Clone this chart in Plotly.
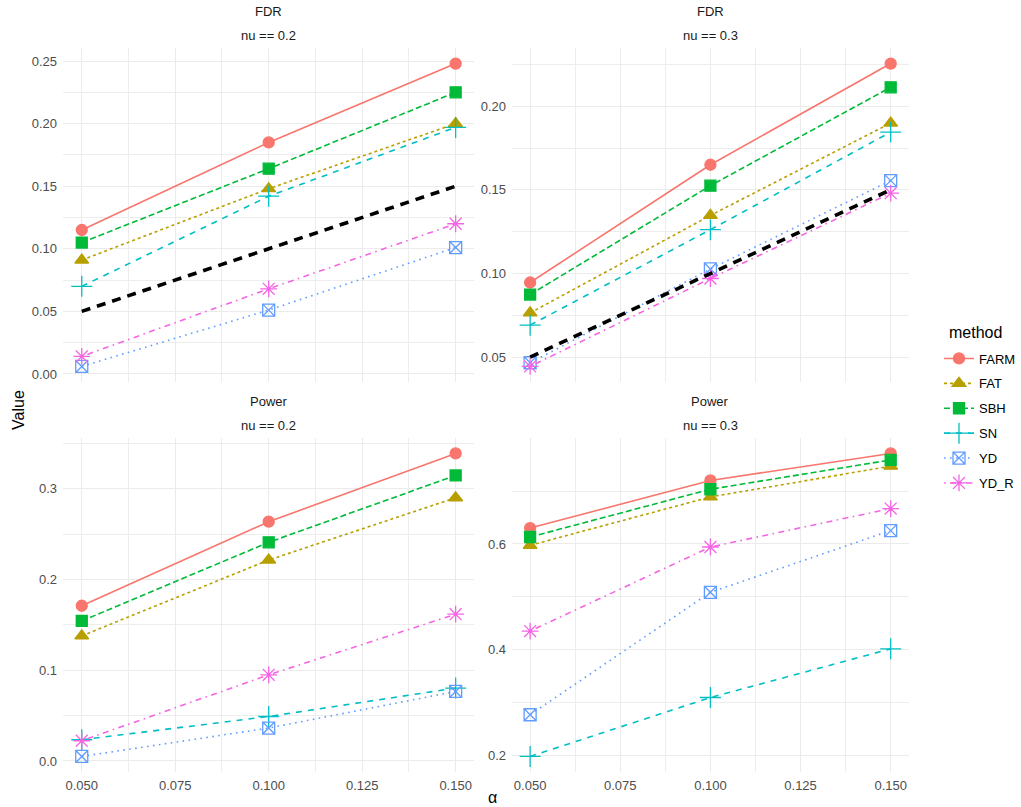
import plotly.graph_objects as go

# ---------------- data ----------------
alpha = [0.05, 0.10, 0.15]
methods = ["FARM", "FAT", "SBH", "SN", "YD", "YD_R"]

# rows follow the order of `methods`
fdr_nu02 = [
    [0.115, 0.185, 0.248],
    [0.091, 0.148, 0.200],
    [0.105, 0.164, 0.225],
    [0.070, 0.142, 0.197],
    [0.006, 0.051, 0.101],
    [0.014, 0.068, 0.120],
]
fdr_nu03 = [
    [0.0946, 0.165, 0.2255],
    [0.0764, 0.1347, 0.1899],
    [0.0874, 0.1525, 0.2113],
    [0.0691, 0.1262, 0.1845],
    [0.0466, 0.1027, 0.1555],
    [0.0444, 0.0970, 0.148],
]
power_nu02 = [
    [0.171, 0.2636, 0.3388],
    [0.1378, 0.2214, 0.290],
    [0.1543, 0.2409, 0.3146],
    [0.0234, 0.049, 0.0803],
    [0.005, 0.0363, 0.0766],
    [0.0223, 0.0949, 0.1617],
]
power_nu03 = [
    [0.630, 0.720, 0.771],
    [0.5975, 0.6888, 0.747],
    [0.6132, 0.7034, 0.7587],
    [0.1987, 0.310, 0.4019],
    [0.2775, 0.5087, 0.6253],
    [0.4355, 0.5943, 0.6669],
]
fdr_target = [0.05, 0.10, 0.15]

# ---------------- styles ----------------
colors = ["#F8766D", "#B79F00", "#00BA38", "#00BFC4", "#619CFF", "#F564E3"]
dashes = ["solid", "3px,3px", "6px,3px", "6px,6px", "1.6px,4.4px", "1.6px,4.4px,6px,4.4px"]
symbols = ["circle", "triangle-up", "square", "cross-thin-open", "square-x-open", "asterisk-open"]
msizes = [11, 12, 11, 15, 12, 14]

W, H = 1021, 807
FONT = "Liberation Sans, Arial, sans-serif"

def px_x(a, b):
    return [a / W, b / W]

def px_y(top, bottom):
    return [1 - bottom / H, 1 - top / H]

panels = [
    # (data, strip1, strip2, xdomain, ydomain, fmt, dtick, minor, show_x_labels, with_ref)
    (fdr_nu02, "FDR", "nu == 0.2", px_x(63.25, 475.75), px_y(48.4, 381.6), ".2f", 0.05, 0.025, False, True),
    (fdr_nu03, "FDR", "nu == 0.3", px_x(513.6, 911.4), px_y(48.4, 381.6), ".2f", 0.05, 0.025, False, True),
    (power_nu02, "Power", "nu == 0.2", px_x(63.25, 475.75), px_y(438.3, 771.6), ".1f", 0.1, 0.05, True, False),
    (power_nu03, "Power", "nu == 0.3", px_x(513.6, 911.4), px_y(438.3, 771.6), ".1f", 0.2, 0.1, True, False),
]

fig = go.Figure()
layout = dict(
    width=W, height=H, autosize=False,
    margin=dict(l=0, r=0, t=0, b=0),
    paper_bgcolor="white", plot_bgcolor="white",
    font=dict(family=FONT, color="#4D4D4D", size=13),
    showlegend=True,
    annotations=[],
)

grid_major = "#EBEBEB"
grid_minor = "#EDEDED"

for i, (data, s1, s2, xd, yd, fmt, dt, mdt, showx, ref) in enumerate(panels):
    k = "" if i == 0 else str(i + 1)
    xa, ya = "x" + k, "y" + k
    vals = [v for row in data for v in row] + (fdr_target if ref else [])
    lo, hi = min(vals), max(vals)
    pad = (hi - lo) * 0.05
    xpad = (max(alpha) - min(alpha)) * 0.05
    for j, m in enumerate(methods):
        fig.add_trace(go.Scatter(
            x=alpha, y=data[j], mode="lines+markers", name=m,
            legendgroup=m, showlegend=(i == 0),
            line=dict(color=colors[j], width=1.6, dash=dashes[j]),
            marker=dict(symbol=symbols[j], size=msizes[j], color=colors[j],
                        line=dict(color=colors[j], width=1.3)),
            xaxis=xa, yaxis=ya,
        ))
    if ref:
        fig.add_trace(go.Scatter(
            x=alpha, y=fdr_target, mode="lines", showlegend=False,
            line=dict(color="black", width=3.6, dash="9px,7px"),
            xaxis=xa, yaxis=ya, hoverinfo="skip",
        ))
    layout["xaxis" + k] = dict(
        domain=xd, anchor=ya, range=[min(alpha) - xpad, max(alpha) + xpad],
        tick0=0.05, dtick=0.025, tickformat=".3f", showticklabels=showx,
        showgrid=True, gridcolor=grid_major, gridwidth=1.1, zeroline=False,
        showline=False, ticks="", ticklabelstandoff=4,
        tickfont=dict(size=13, color="#4D4D4D", family=FONT),
        minor=dict(dtick=0.0125, tick0=0.05, showgrid=True, gridcolor=grid_minor, gridwidth=0.6),
    )
    layout["yaxis" + k] = dict(
        domain=yd, anchor=xa, range=[lo - pad, hi + pad],
        tick0=0, dtick=dt, tickformat=fmt,
        showgrid=True, gridcolor=grid_major, gridwidth=1.1, zeroline=False,
        showline=False, ticks="", ticklabelstandoff=5,
        tickfont=dict(size=13, color="#4D4D4D", family=FONT),
        minor=dict(dtick=mdt, tick0=0, showgrid=True, gridcolor=grid_minor, gridwidth=0.6),
    )
    xc = (xd[0] + xd[1]) / 2
    top_px = (1 - yd[1]) * H
    layout["annotations"].append(dict(
        text=s1, x=xc, y=1 - (top_px - 36.5) / H, xref="paper", yref="paper",
        showarrow=False, xanchor="center", yanchor="middle",
        font=dict(size=13, color="#1A1A1A", family=FONT)))
    layout["annotations"].append(dict(
        text=s2, x=xc, y=1 - (top_px - 12.5) / H, xref="paper", yref="paper",
        showarrow=False, xanchor="center", yanchor="middle",
        font=dict(size=13, color="#1A1A1A", family=FONT)))

layout["annotations"].append(dict(
    text="Value", x=18 / W, y=1 - 410 / H, xref="paper", yref="paper",
    showarrow=False, textangle=-90, xanchor="center", yanchor="middle",
    font=dict(size=16, color="black", family=FONT)))
layout["annotations"].append(dict(
    text="α", x=494 / W, y=1 - 797 / H, xref="paper", yref="paper",
    showarrow=False, xanchor="center", yanchor="middle",
    font=dict(size=16, color="black", family=FONT)))
# legend title
layout["annotations"].append(dict(
    text="method", x=950 / W, y=1 - 332 / H, xref="paper", yref="paper",
    showarrow=False, xanchor="left", yanchor="middle",
    font=dict(size=16, color="black", family=FONT)))

layout["legend"] = dict(
    font=dict(size=13, color="black", family=FONT),
    x=942 / W, xanchor="left", y=1 - 343.5 / H, yanchor="top",
    traceorder="grouped", tracegroupgap=5, itemwidth=30,
    bgcolor="rgba(0,0,0,0)",
)

fig.update_layout(**layout)
fig.write_html("out.html", config={"displayModeBar": False},
               post_script="document.body.style.margin='0';document.body.style.overflow='hidden';")
